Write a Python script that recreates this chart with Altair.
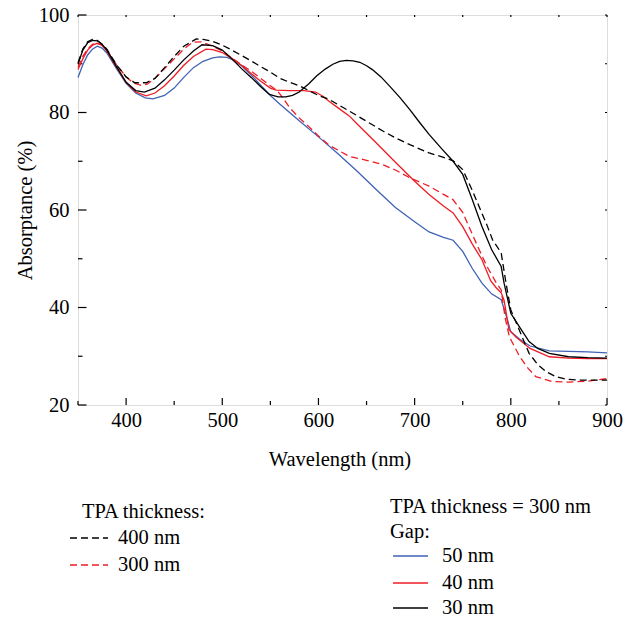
import altair as alt
import pandas as pd

# ---------------- data ----------------
w_400 = [350, 355, 360, 365, 370, 375, 380, 390, 400, 409, 421, 430, 440, 450, 460, 473, 480, 490, 500, 510,
         520, 530, 539, 550, 560, 570, 580, 590, 600, 611, 632, 650, 667, 680, 695, 715, 730, 740, 750, 760,
         767, 775, 781, 790, 795, 800, 810, 819, 828, 837, 847, 857, 870, 900]
a_400 = [90.2, 93, 94.5, 95, 94.8, 94, 93, 89.8, 87.3, 86.1, 86.1, 87, 89.2, 91.5, 93.6, 95.1, 95, 94.6, 93.8, 92.8,
         91.7, 90.6, 89.5, 88.3, 87, 86.2, 85.5, 84.5, 83.5, 82.7, 80.3, 78.2, 76.2, 74.8, 73.4, 71.7, 70.8, 70.1, 68.3, 64,
         60.7, 57, 53.9, 51.2, 45, 39.5, 34.8, 30.6, 28.3, 26.8, 25.8, 25.3, 25.1, 25.1]

w_300 = [350, 355, 360, 365, 370, 375, 380, 390, 400, 408, 415, 422, 430, 440, 450, 460, 469, 478, 490, 500,
         510, 520, 530, 540, 550, 557, 563, 570, 580, 590, 600, 611, 620, 632, 650, 667, 680, 695, 715, 730,
         740, 750, 760, 767, 775, 785, 790, 794, 798.5, 809, 818, 826, 843, 860, 880, 900]
a_300 = [89.3, 91.5, 93, 94, 94.2, 93.8, 92.8, 89.8, 87.3, 86, 85.6, 85.8, 87, 89, 91, 93, 94.4, 94.5, 93.6, 92.6,
         91.2, 89.8, 88.5, 87, 85.5, 84.5, 83, 81, 78.9, 77.1, 75.2, 73.3, 72.3, 71, 70.2, 69.3, 68.2, 66.6, 64.9, 63.2,
         62.1, 59.5, 55, 51.9, 48.5, 45, 43.6, 38, 34, 30, 27.5, 25.8, 24.8, 24.7, 24.9, 25.4]

w_g50 = [350, 355, 360, 365, 370, 375, 380, 390, 400, 410, 420, 428, 440, 450, 460, 470, 480, 490, 497, 505,
         510, 520, 530, 540, 550, 560, 580, 600, 620, 640, 660, 680, 700, 715, 730, 740, 750, 760, 770, 780,
         790, 795, 800, 810, 820, 840, 860, 880, 900]
a_g50 = [87.2, 89.8, 91.8, 93, 93.6, 93.2, 92.2, 89, 86, 84, 83, 82.8, 83.5, 85, 87.2, 89.2, 90.5, 91.2, 91.4, 91.3,
         90.9, 89.6, 87.7, 85.6, 83.5, 81.7, 78.3, 75, 71.6, 68, 64.2, 60.5, 57.6, 55.5, 54.4, 53.8, 51.5, 48, 45, 42.8,
         41.6, 38.5, 35, 33.4, 32.1, 31.1, 31, 30.9, 30.7]

w_g40 = [350, 355, 360, 365, 370, 375, 380, 390, 400, 410, 421, 430, 440, 450, 460, 470, 483, 490, 500, 510,
         520, 530, 540, 550, 556, 570, 585, 597, 605, 611, 620, 632, 640, 660, 680, 700, 715, 730, 740, 750,
         760, 770, 779, 785, 790, 793, 798, 805, 820, 840, 860, 880, 900]
a_g40 = [88.8, 91, 92.8, 93.8, 94.2, 93.8, 92.6, 89.3, 86.2, 84.2, 83.4, 84, 85.5, 87.5, 89.7, 91.5, 93, 92.9, 92.3, 91.1,
         89.7, 88, 86.4, 85, 84.6, 84.5, 84.5, 84.2, 83.3, 82.3, 81, 79.3, 77.7, 73.8, 69.8, 65.9, 63.2, 60.8, 59.4, 56.6,
         53, 49.8, 45.5, 44, 43, 41.5, 35.5, 34, 31.6, 29.9, 29.6, 29.5, 29.5]

w_g30 = [350, 355, 360, 365, 370, 375, 380, 390, 400, 410, 419, 430, 440, 450, 460, 470, 479, 490, 500, 510,
         520, 530, 540, 549, 558, 566, 573, 580, 590, 598, 607, 615, 622, 629, 636, 643, 650, 656, 665, 674,
         685, 695, 705, 715, 728, 740, 750, 760, 770, 780, 790, 793, 800, 810, 819, 828, 840, 860, 880, 900]
a_g30 = [89.9, 92.8, 94.3, 94.8, 94.7, 94, 92.8, 89.4, 86.2, 84.5, 84.2, 85, 86.7, 88.7, 90.8, 92.6, 93.9, 93.7, 92.8, 91,
         89, 87.2, 85.3, 83.7, 83.2, 83.2, 83.5, 84.2, 85.9, 87.5, 88.9, 89.9, 90.5, 90.7, 90.6, 90.3, 89.6, 88.8, 87.3, 85.4,
         83, 80.6, 78, 75.5, 72.6, 70, 67.3, 62.1, 56.6, 51.9, 48.4, 45, 38.8, 35.7, 33, 31.6, 30.6, 29.9, 29.7, 29.6]

x_major = [400, 500, 600, 700, 800, 900]
x_minor = [350, 450, 550, 650, 750, 850]
y_major = [20, 40, 60, 80, 100]
y_minor = [30, 50, 70, 90]

tpa_title = "TPA thickness:"
tpa_labels = ["400 nm", "300 nm"]
gap_title = ["TPA thickness = 300 nm", "Gap:"]
gap_labels = ["50 nm", "40 nm", "30 nm"]

# ---------------- styling ----------------
W, H = 529, 390
FONT = "Liberation Serif"
FS = 20.5
BLUE = "#3f62b4"
RED = "#ee1c24"
BLACK = "#000000"
DASH = [7, 4]
LW = 1.3

xs = alt.Scale(domain=[350, 900], nice=False, zero=False)
ys = alt.Scale(domain=[20, 100], nice=False, zero=False)

XAX = alt.Axis(values=x_major, domain=False, ticks=False, grid=False, labelFont=FONT,
               labelFontSize=FS, labelColor="black", labelPadding=5, labelFlush=False,
               titleFont=FONT, titleFontSize=FS, titleFontWeight="normal", titleColor="black",
               titleX=W / 2 - 3, titleY=54, titleBaseline="middle")
YAX = alt.Axis(values=y_major, domain=False, ticks=False, grid=False, labelFont=FONT,
               labelFontSize=FS, labelColor="black", labelPadding=9, labelFlush=False,
               titleFont=FONT, titleFontSize=FS, titleFontWeight="normal", titleColor="black",
               titleX=-53, titleY=H / 2, titleBaseline="middle")
XT = "Wavelength (nm)"
YT = "Absorptance (%)"


def X(field):
    return alt.X(field, scale=xs, title=XT, axis=XAX)


def Y(field):
    return alt.Y(field, scale=ys, title=YT, axis=YAX)


def series(w, a, color, dash=None):
    df = pd.DataFrame({"w": w, "a": a})
    kw = dict(color=color, strokeWidth=LW)
    if dash:
        kw["strokeDash"] = dash
    return alt.Chart(df).mark_line(**kw).encode(x=X("w:Q"), y=Y("a:Q"))


def xticks(vals, length, top=False):
    df = pd.DataFrame({"w": vals})
    if top:
        y1, y2 = 0, length
    else:
        y1, y2 = H, H - length
    return alt.Chart(df).mark_rule(color="black", strokeWidth=1.2).encode(
        x=X("w:Q"), y=alt.value(y1), y2=alt.value(y2))


def yticks(vals, length, right=False):
    df = pd.DataFrame({"a": vals})
    if right:
        x1, x2 = W, W - length
    else:
        x1, x2 = 0, length
    return alt.Chart(df).mark_rule(color="black", strokeWidth=1.2).encode(
        y=Y("a:Q"), x=alt.value(x1), x2=alt.value(x2))


ticks = [xticks(x_major, 7), xticks(x_minor, 4), yticks(y_major, 8.5), yticks(y_minor, 4.5),
         xticks(x_major + x_minor, 2, top=True), yticks(y_major + y_minor, 2, right=True)]


def text(label, x, y):
    return alt.Chart(pd.DataFrame({"t": [label]})).mark_text(
        align="left", baseline="middle", font=FONT, fontSize=FS, color="black").encode(
        x=alt.value(x), y=alt.value(y), text="t:N")


def swatch(x1, x2, y, color, dash=None):
    kw = dict(color=color, strokeWidth=LW)
    if dash:
        kw["strokeDash"] = dash
    return alt.Chart(pd.DataFrame({"t": [0]})).mark_rule(**kw).encode(
        x=alt.value(x1), x2=alt.value(x2), y=alt.value(y))


legend = [
    text(tpa_title, 4, 497),
    swatch(-8, 30, 523, BLACK, DASH), text(tpa_labels[0], 40, 523),
    swatch(-8, 30, 550, RED, DASH), text(tpa_labels[1], 40, 550),
    text(gap_title[0], 312, 492),
    text(gap_title[1], 312, 517),
    swatch(315, 350, 541, BLUE), text(gap_labels[0], 364, 541),
    swatch(315, 350, 568, RED), text(gap_labels[1], 364, 568),
    swatch(315, 350, 593, BLACK), text(gap_labels[2], 364, 593),
]

lines = [
    series(w_g50, a_g50, BLUE),
    series(w_g40, a_g40, RED),
    series(w_300, a_300, RED, DASH),
    series(w_400, a_400, BLACK, DASH),
    series(w_g30, a_g30, BLACK),
]

chart = alt.layer(*ticks, *lines, *legend).properties(
    width=W, height=H,
    autosize=alt.AutoSizeParams(type="none"),
    padding={"left": 78, "top": 15, "right": 632 - 78 - W, "bottom": 622 - 15 - H},
).configure_view(stroke="black", strokeWidth=1.5).configure(background="white")

chart.save("out.html", embed_options={"renderer": "svg", "actions": False})
